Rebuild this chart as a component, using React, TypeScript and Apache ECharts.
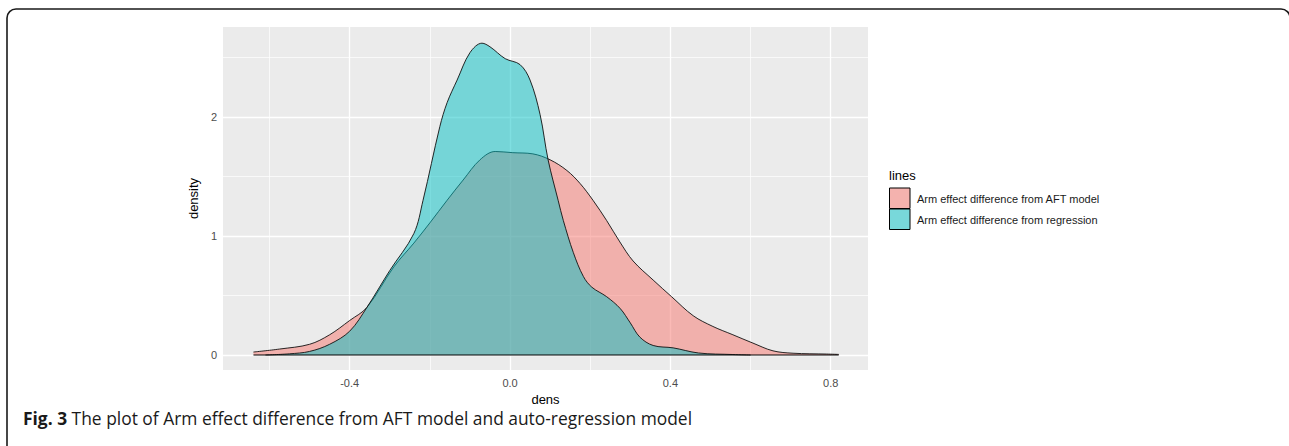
import React, { useEffect, useRef } from "react";
import * as echarts from "echarts";

// Density curve of "Arm effect difference from AFT model"
const aftX = [-0.64, -0.575, -0.5, -0.45, -0.4, -0.357, -0.29, -0.24, -0.2, -0.157, -0.117, -0.075, -0.037, 0.007, 0.057, 0.1, 0.142, 0.175, 0.207, 0.241, 0.274, 0.307, 0.357, 0.403, 0.457, 0.506, 0.556, 0.606, 0.656, 0.706, 0.79, 0.82];
const aftY = [0.025, 0.05, 0.09, 0.17, 0.29, 0.4, 0.74, 0.94, 1.11, 1.3, 1.47, 1.64, 1.71, 1.7, 1.69, 1.64, 1.55, 1.44, 1.3, 1.13, 0.95, 0.79, 0.63, 0.49, 0.33, 0.24, 0.17, 0.1, 0.035, 0.015, 0.008, 0.005];

// Density curve of "Arm effect difference from regression"
const regX = [-0.61, -0.55, -0.5, -0.45, -0.4, -0.357, -0.3, -0.24, -0.217, -0.175, -0.157, -0.132, -0.1, -0.07, -0.05, -0.012, 0.025, 0.05, 0.075, 0.095, 0.12, 0.133, 0.158, 0.183, 0.204, 0.241, 0.275, 0.3, 0.324, 0.357, 0.407, 0.47, 0.556, 0.6];
const regY = [0, 0.01, 0.03, 0.09, 0.2, 0.4, 0.71, 1.02, 1.3, 1.92, 2.12, 2.31, 2.54, 2.62, 2.59, 2.49, 2.44, 2.31, 2.02, 1.64, 1.3, 1.13, 0.86, 0.66, 0.57, 0.49, 0.39, 0.27, 0.15, 0.08, 0.06, 0.017, 0.004, 0];

const seriesNames = ["Arm effect difference from AFT model", "Arm effect difference from regression"];
const xTicks = [-0.4, 0, 0.4, 0.8];
const xMinor = [-0.6, -0.2, 0.2, 0.6];
const yTicks = [0, 1, 2];
const yMinor = [0.5, 1.5, 2.5];
const xRange = [-0.716, 0.893];
const yRange = [-0.126, 2.756];
const baseline = [-0.64, 0.82];

const PINK = "#F8766D";
const TEAL = "#00BFC4";
const FONT = "'Liberation Sans', Arial, sans-serif";
const CAPTION_FONT = "'Open Sans', 'Noto Sans', sans-serif";

export default function App() {
  const ref = useRef<HTMLDivElement>(null);
  useEffect(() => {
    if (!ref.current) return;
    const chart = echarts.init(ref.current, undefined, { renderer: "svg" });
    const gridLines = [
      ...xTicks.map((v) => ({ xAxis: v, lineStyle: { width: 1.3 } })),
      ...xMinor.map((v) => ({ xAxis: v, lineStyle: { width: 0.7 } })),
      ...yTicks.map((v) => ({ yAxis: v, lineStyle: { width: 1.3 } })),
      ...yMinor.map((v) => ({ yAxis: v, lineStyle: { width: 0.7 } })),
    ];
    chart.setOption({
      animation: false,
      textStyle: { fontFamily: FONT },
      grid: {
        left: 223,
        top: 27,
        right: 421,
        bottom: 76,
        show: true,
        backgroundColor: "#EBEBEB",
        borderWidth: 0,
      },
      xAxis: {
        type: "value",
        min: xRange[0],
        max: xRange[1],
        name: "dens",
        nameLocation: "middle",
        nameGap: 17,
        nameTextStyle: { color: "#000", fontSize: 13, lineHeight: 14, fontFamily: FONT },
        axisLine: { show: false },
        splitLine: { show: false },
        axisTick: { show: true, length: 4, customValues: xTicks, lineStyle: { color: "#333", width: 1 } },
        axisLabel: {
          customValues: xTicks,
          margin: 7,
          color: "#4D4D4D",
          fontSize: 11,
          fontFamily: FONT,
          formatter: (v: number) => v.toFixed(1),
        },
      },
      yAxis: {
        type: "value",
        min: yRange[0],
        max: yRange[1],
        name: "density",
        nameLocation: "middle",
        nameRotate: 90,
        nameGap: 15,
        nameTextStyle: { color: "#000", fontSize: 13, fontFamily: FONT },
        axisLine: { show: false },
        splitLine: { show: false },
        axisTick: { show: true, length: 4, customValues: yTicks, lineStyle: { color: "#333", width: 1 } },
        axisLabel: {
          customValues: yTicks,
          margin: 6,
          color: "#4D4D4D",
          fontSize: 11,
          fontFamily: FONT,
          formatter: (v: number) => String(v),
        },
      },
      series: [
        {
          type: "line",
          name: "grid",
          z: 1,
          data: [[xRange[0], yRange[0]]],
          showSymbol: false,
          symbol: "none",
          lineStyle: { opacity: 0 },
          silent: true,
          markLine: {
            z: 1,
            silent: true,
            symbol: "none",
            label: { show: false },
            lineStyle: { color: "#FFFFFF", type: "solid" },
            emphasis: { disabled: true },
            data: gridLines,
          },
        },
        {
          type: "line",
          name: seriesNames[0],
          z: 2,
          data: aftX.map((x, i) => [x, aftY[i]]),
          smooth: 0.35,
          symbol: "none",
          lineStyle: { color: "#111", width: 0.9 },
          areaStyle: { color: PINK, opacity: 0.5 },
        },
        {
          type: "line",
          name: seriesNames[1],
          z: 3,
          data: regX.map((x, i) => [x, regY[i]]),
          smooth: 0.35,
          symbol: "none",
          lineStyle: { color: "#111", width: 0.9 },
          areaStyle: { color: TEAL, opacity: 0.5 },
        },
        {
          type: "line",
          name: "baseline",
          z: 4,
          data: [[baseline[0], 0], [baseline[1], 0]],
          symbol: "none",
          lineStyle: { color: "#000", width: 1.2 },
        },
      ],
      graphic: [
        {
          type: "rect",
          shape: { x: 7, y: 9, width: 1283, height: 520, r: 9 },
          style: { fill: "none", stroke: "#1a1a1a", lineWidth: 1.6 },
          silent: true,
        },
        {
          type: "text",
          x: 889,
          y: 175,
          style: { text: "lines", fontSize: 13, fontFamily: FONT, fill: "#000", verticalAlign: "middle" },
        },
        {
          type: "rect",
          shape: { x: 889.5, y: 188, width: 20.5, height: 20.5 },
          style: { fill: "#F4B2AE", stroke: "#000", lineWidth: 1 },
        },
        {
          type: "rect",
          shape: { x: 889.5, y: 209, width: 20.5, height: 20.5 },
          style: { fill: "#78D8DA", stroke: "#000", lineWidth: 1 },
        },
        {
          type: "text",
          x: 917,
          y: 199,
          style: { text: seriesNames[0], fontSize: 11, fontFamily: FONT, fill: "#1a1a1a", verticalAlign: "middle" },
        },
        {
          type: "text",
          x: 917,
          y: 220,
          style: { text: seriesNames[1], fontSize: 11, fontFamily: FONT, fill: "#1a1a1a", verticalAlign: "middle" },
        },
        {
          type: "text",
          x: 23,
          y: 418,
          style: {
            text: "{b|Fig. 3} The plot of Arm effect difference from AFT model and auto-regression model",
            fontSize: 17.4,
            lineHeight: 18,
            fontFamily: CAPTION_FONT,
            fill: "#1a1a1a",
            verticalAlign: "middle",
            rich: {
              b: { fontWeight: "bold", fontSize: 17.4, lineHeight: 18, fontFamily: CAPTION_FONT, fill: "#1a1a1a" },
            },
          },
        },
      ],
    });
    return () => chart.dispose();
  }, []);
  return (
    <div
      ref={ref}
      style={{ position: "fixed", left: 0, top: 0, width: 1289, height: 446, background: "#fff" }}
    />
  );
}
